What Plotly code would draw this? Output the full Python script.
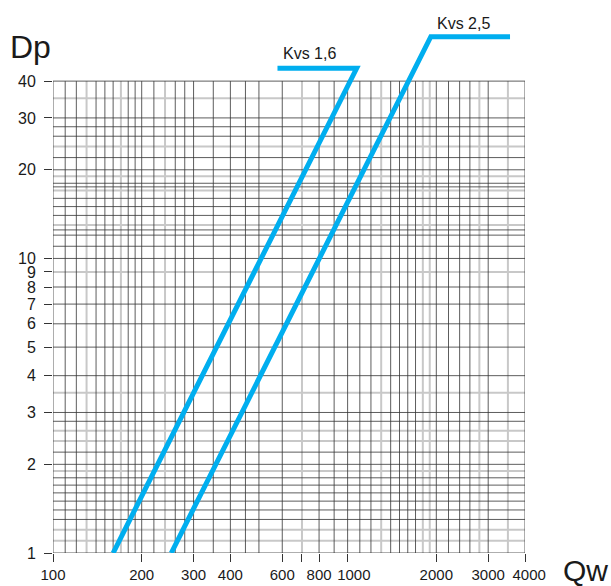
import math
import plotly.graph_objects as go

# ---- data ----
# Kvs 1,6 curve: (flag end, corner, bottom end)
q_kvs16 = [578, 1073, 160]
dp_kvs16 = [44.2, 44.2, 1]
# Kvs 2,5 curve
q_kvs25 = [3558, 1916, 252]
dp_kvs25 = [56.6, 56.6, 1]

# grid lines
grid_x_dark = [100, 110, 120, 140, 150, 160, 180, 190, 200, 220, 260, 280, 300, 350, 400,
               450, 500, 600, 800, 900, 1000, 1100, 1200, 1400, 1500, 1600, 1700, 2000,
               2200, 2400, 2600, 3000, 4000]
grid_x_light = [130, 170, 240, 700, 1300, 1800, 1900, 2800, 3500]
grid_y_dark = [1, 1.3, 1.4, 1.5, 1.6, 1.7, 1.8, 2, 2.2, 2.8, 3, 4, 5, 6, 7, 8, 10, 11, 12,
               12.5, 14, 15, 16, 17.5, 18, 20, 22, 26, 28, 30, 40]
grid_y_light = [1.1, 1.2, 1.9, 2.4, 2.6, 3.5, 9, 13, 17, 19, 24, 35]

NB = "\u00a0"
x_tick_vals = [100, 200, 300, 400, 600, 700, 800, 1000, 2000, 3000, 4000]
x_tick_text = ["100", "200", "300", "400", "600", "", "800", NB * 3 + "1000", "2000", "3000",
               NB * 2 + "4000"]
y_tick_vals = [1, 2, 3, 4, 5, 6, 7, 8, 9, 10, 20, 30, 40]
y_tick_text = ["1", "2", "3", "4", "5", "6", "7", "8", "9", "10", "20", "30", "40"]

x_min, x_max = 100, 4000
y_min, y_max = 1, 40
y_top = 64.5  # visible space above the grid for the Kvs flags

label_kvs16 = ("Kvs 1,6", 745, 49.5)
label_kvs25 = ("Kvs 2,5", 2465, 63.0)

BLUE = "#00aeef"
TXT = "#1a1a1a"
FONT = "Liberation Sans, Arial"


def grid_trace(xs, ys, color, width):
    gx, gy = [], []
    for v in xs:
        gx += [v, v, None]
        gy += [y_min, y_max, None]
    for v in ys:
        gx += [x_min, x_max, None]
        gy += [v, v, None]
    return go.Scatter(x=gx, y=gy, mode="lines", line=dict(color=color, width=width),
                      hoverinfo="skip", showlegend=False)


fig = go.Figure()
fig.add_trace(grid_trace(grid_x_light, grid_y_light, "#c8c8c8", 2))
fig.add_trace(grid_trace(grid_x_dark, grid_y_dark, "#333333", 0.8))
fig.add_trace(go.Scatter(x=q_kvs16, y=dp_kvs16, mode="lines",
                         line=dict(color=BLUE, width=5), showlegend=False, hoverinfo="skip"))
fig.add_trace(go.Scatter(x=q_kvs25, y=dp_kvs25, mode="lines",
                         line=dict(color=BLUE, width=5), showlegend=False, hoverinfo="skip"))

for text, qx, dy in (label_kvs16, label_kvs25):
    fig.add_annotation(x=math.log10(qx), y=math.log10(dy), xref="x", yref="y", text=text,
                       showarrow=False, font=dict(family=FONT, size=16, color=TXT),
                       xanchor="center", yanchor="middle")

fig.add_annotation(x=-0.047, y=0.95, xref="paper", yref="paper", text="Dp", showarrow=False,
                   font=dict(family=FONT, size=32, color=TXT),
                   xanchor="center", yanchor="middle")
fig.add_annotation(x=1.129, y=-0.032, xref="paper", yref="paper", text="Qw", showarrow=False,
                   font=dict(family=FONT, size=30, color=TXT),
                   xanchor="center", yanchor="middle")

fig.update_layout(
    width=611, height=586,
    margin=dict(l=53, r=86, t=20, b=33, autoexpand=False),
    paper_bgcolor="white", plot_bgcolor="white",
    showlegend=False, hovermode=False,
    font=dict(family=FONT, color=TXT),
    xaxis=dict(type="log", range=[math.log10(x_min), math.log10(x_max)],
               showgrid=False, zeroline=False, showline=False, automargin=False,
               tickmode="array", tickvals=x_tick_vals, ticktext=x_tick_text,
               tickangle=0,
               ticks="outside", ticklen=8, tickwidth=1, tickcolor="#333333",
               tickfont=dict(size=15, color=TXT)),
    yaxis=dict(type="log", range=[math.log10(y_min), math.log10(y_top)],
               showgrid=False, zeroline=False, showline=False, automargin=False,
               tickmode="array", tickvals=y_tick_vals, ticktext=y_tick_text,
               ticks="outside", ticklen=8, tickwidth=1, tickcolor="#333333",
               ticklabelstandoff=5,
               tickfont=dict(size=16, color=TXT)),
)

fig.write_html("out.html", config={"displayModeBar": False},
               post_script="document.body.style.margin='0';document.body.style.overflow='hidden';")
